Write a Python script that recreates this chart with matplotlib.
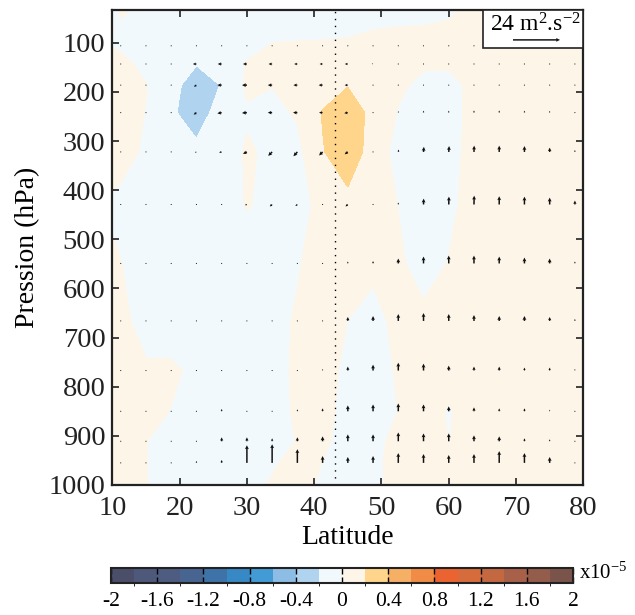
import numpy as np
import matplotlib
matplotlib.use("Agg")
import matplotlib.pyplot as plt
from matplotlib.colors import ListedColormap, BoundaryNorm
from matplotlib.patches import Rectangle

plt.rcParams['font.family'] = ['Liberation Serif', 'DejaVu Serif']
plt.rcParams['mathtext.fontset'] = 'custom'
plt.rcParams['mathtext.rm'] = 'Liberation Serif'
plt.rcParams['mathtext.it'] = 'Liberation Serif:italic'

# ---------------- data ----------------
# quiver grid
lats = [11.25, 15, 18.75, 22.5, 26.25, 30, 33.75, 37.5, 41.25, 45, 48.75,
        52.5, 56.25, 60, 63.75, 67.5, 71.25, 75, 78.75]
plev = [106, 143, 186, 242, 322, 429, 549, 666, 767, 850, 911, 955]

# contour grid (quiver grid plus domain edges), values in 1e-5 units
lat_c = [10] + lats + [80]
p_c = [33] + plev + [1000]
field = [
 [-0.02, 0.01,-0.02,-0.06,-0.08,-0.08,-0.08,-0.08,-0.08,-0.08,-0.08,-0.08,-0.08,-0.06,-0.03, 0.05, 0.08, 0.08, 0.08, 0.08, 0.08],
 [-0.005,-0.03,-0.08,-0.10,-0.10,-0.10,-0.04, 0.007,0.013,0.016,0.023,0.064,0.09, 0.08, 0.077,0.10, 0.10, 0.10, 0.10, 0.10, 0.10],
 [0.08, 0.05,-0.05,-0.12,-0.19,-0.10, 0.01, 0.05, 0.06, 0.08, 0.10, 0.08, 0.05, 0.02, 0.02, 0.08, 0.10, 0.10, 0.10, 0.10, 0.10],
 [0.10, 0.08, 0.005,-0.12,-0.32,-0.19, 0.03, 0.005,0.04, 0.12, 0.19, 0.10, 0.03,-0.04,-0.05, 0.04, 0.10, 0.10, 0.10, 0.10, 0.10],
 [0.10, 0.08,-0.005,-0.17,-0.30,-0.11,-0.02,-0.05, 0.02, 0.21, 0.32, 0.14,-0.01,-0.06,-0.05, 0.04, 0.10, 0.10, 0.10, 0.10, 0.10],
 [0.10, 0.07,-0.03,-0.10,-0.15,-0.10, 0.02,-0.03,-0.05, 0.19, 0.30, 0.13,-0.08,-0.10,-0.05, 0.05, 0.10, 0.10, 0.10, 0.10, 0.10],
 [-0.03,-0.05,-0.08,-0.10,-0.10,-0.08, 0.01,-0.04,-0.05, 0.04, 0.15, 0.08,-0.003,-0.08,-0.03, 0.05, 0.10, 0.10, 0.10, 0.10, 0.10],
 [0.03, 0.003,-0.06,-0.08,-0.08,-0.08,-0.08,-0.06,-0.015,0.08, 0.10, 0.04, 0.02,-0.05, 0.005,0.08, 0.10, 0.10, 0.10, 0.10, 0.10],
 [0.10, 0.04,-0.06,-0.10,-0.10,-0.10,-0.10,-0.06, 0.02, 0.08,-0.002,-0.06, 0.05, 0.03, 0.08, 0.10, 0.10, 0.10, 0.10, 0.10, 0.10],
 [0.10, 0.10, 0.02, 0.03,-0.04,-0.08,-0.08,-0.08, 0.04, 0.05,-0.03,-0.08, 0.02, 0.06, 0.04, 0.08, 0.08, 0.08, 0.08, 0.08, 0.08],
 [0.10, 0.10, 0.05,-0.005,-0.06,-0.08,-0.08,-0.08, 0.03, 0.04,-0.04,-0.06, 0.002,0.06,-0.01, 0.06, 0.06, 0.06, 0.06, 0.06, 0.06],
 [0.10, 0.06, 0.003,-0.06,-0.08,-0.08,-0.08,-0.05, 0.005,0.03,-0.06,-0.05, 0.05, 0.06,-0.003,0.05, 0.06, 0.06, 0.06, 0.06, 0.06],
 [0.10, 0.05, 0.003,-0.06,-0.08,-0.08,-0.08,-0.02, 0.05,-0.003,-0.08,-0.04, 0.06, 0.06, 0.06, 0.06, 0.06, 0.06, 0.06, 0.06, 0.06],
 [0.10, 0.05, 0.003,-0.06,-0.08,-0.08,-0.08, 0.02, 0.05,-0.02,-0.08,-0.04, 0.06, 0.06, 0.06, 0.06, 0.06, 0.06, 0.06, 0.06, 0.06],
]

# flux vectors (m2 s-2), rows follow plev, columns follow lats
u = [
 [-0.5]*19,
 [-0.4,-0.5,-0.5,-1.8,-2.0,-2.0,-1.8,-1.6,-1.5,-1.5,-0.6,-0.5,-0.5,-0.5,-0.4,-0.4,-0.4,-0.4,-0.4],
 [-0.3,-0.4,-0.6,-1.3,-2.2,-2.5,-2.2,-2.0,-2.0,-1.6,-0.6, 0, 0, 0, 0, 0, 0, 0, 0],
 [-0.3,-0.3,-0.6,-1.4,-2.2,-2.5,-2.2,-2.2,-1.8,-1.8,-0.3, 0, 0, 0, 0, 0, 0, 0, 0],
 [-0.3,-0.3,-0.4,-0.8,-1.3,-2.0,-2.0,-2.0,-1.8,-1.6,-0.3, 0.2, 0.2, 0.2, 0.1, 0, 0, 0, 0],
 [-0.3,-0.3,-0.3,-0.3,-0.3,-1.0,-1.2,-1.0,-0.5,-1.2,-0.3, 0, 0.1, 0.1, 0.1, 0, 0, 0, 0],
 [-0.3,-0.3,-0.3,-0.3,-0.3,-0.3,-0.3,-0.3, 0, 0, 0, 0, 0, 0, 0, 0, 0, 0, 0],
 [0]*19,
 [0]*19,
 [0]*19,
 [0]*19,
 [0]*19,
]
v = [
 [0]*19,
 [0, 0, 0, 0, 0, 0, 0, 0, 0, 0, 0.2, 0.2, 0.2, 0.2, 0.2, 0.2, 0.2, 0.2, 0.2],
 [0, 0, 0,-0.8, 0, 0, 0, 0, 0, 0, 0, 0.5, 0.5, 0.6, 0.5, 0.5, 0.5, 0.4, 0.3],
 [0, 0, 0,-1.0,-0.4,-0.2, 0, 0, 0,-0.3,-0.5, 0.8, 1.0, 1.0, 1.1, 1.1, 1.0, 0.9, 0.6],
 [0, 0, 0,-0.3,-0.3,-1.0,-2.0,-2.2,-1.8,-1.2, 0, 1.2, 2.6, 3.0, 3.2, 3.2, 3.0, 2.2, 1.0],
 [0, 0, 0, 0, 0,-0.3,-1.0,-0.8,-0.2,-1.0, 0, 1.0, 3.0, 4.0, 4.5, 4.2, 4.0, 3.5, 2.0],
 [0, 0, 0, 0, 0, 0, 0, 0, 0.5, 1.0, 1.2, 2.5, 3.5, 4.0, 4.0, 3.5, 3.0, 2.5, 1.0],
 [0.3, 0.3, 0.3, 0.3, 0.3, 0.3, 0.3, 0.3, 0.3, 2.0, 2.5, 3.5, 4.0, 3.5, 3.0, 2.5, 2.5, 2.0, 1.0],
 [0.3, 0.3, 0.3, 0.3, 0.3, 0.3, 0.3, 0.3, 0.8, 2.0, 3.0, 4.0, 3.5, 2.5, 2.0, 2.0, 1.5, 1.5, 0.8],
 [0.3, 0.3, 0.3, 0.3, 1.2, 0.5, 0.5, 1.0, 1.5, 3.0, 3.5, 4.0, 3.5, 2.5, 2.0, 1.5, 1.5, 0.8, 0.6],
 [0.3, 0.3, 0.3, 0.5, 2.0, 2.0, 1.5, 2.0, 2.5, 3.5, 3.5, 4.5, 4.0, 4.0, 3.0, 2.5, 1.5, 1.0, 0.5],
 [0.3, 0.3, 0.3, 1.0, 1.5, 9.0, 9.5, 7.0, 3.5, 3.0, 3.5, 5.0, 4.5, 4.0, 4.5, 6.0, 5.0, 3.0, 0.5],
]

levels = np.round(np.arange(-2.0, 2.01, 0.2), 2)
colors = ['#4a4e68', '#4e587a', '#4e5c82', '#486491', '#3e73a8',
          '#3789c6', '#429bd4', '#8dbde4', '#b0d4f0', '#f2f9fd',
          '#fdf5e8', '#fed58a', '#f6b066', '#f08c46', '#ea6330',
          '#d66b3c', '#c46842', '#a86048', '#945c4a', '#7a544a']
cb_ticks = [-2, -1.6, -1.2, -0.8, -0.4, 0, 0.4, 0.8, 1.2, 1.6, 2]
ref_lat = 43.1
key_value = 24

# ---------------- plot ----------------
fig = plt.figure(figsize=(6.35, 6.15), dpi=100)
ax = fig.add_axes([0.1769, 0.2114, 0.7417, 0.7724])

cmap = ListedColormap(colors)
norm = BoundaryNorm(levels, cmap.N)
cf = ax.contourf(lat_c, p_c, np.array(field), levels=levels, cmap=cmap, norm=norm, zorder=1)

Q = ax.quiver(lats, plev, np.array(u), np.array(v), angles='uv',
              scale_units='inches', scale=key_value / 0.47, units='inches',
              width=0.015, headwidth=2.6, headlength=2.6, headaxislength=2.3,
              minshaft=1.2, minlength=0.8,
              color='#111111', pivot='tail', zorder=3)

ax.axvline(ref_lat, color='k', lw=1.0, ls=(0, (1, 4)), zorder=4)

ax.set_xlim(10, 80)
ax.set_ylim(1000, 33)
ax.set_xticks(range(10, 81, 10))
ax.set_yticks(range(100, 1001, 100))
ax.tick_params(direction='in', top=True, right=True, length=5, width=1.2,
               labelsize=20.5, colors='#222222')
ax.tick_params(axis='x', pad=8)
ax.tick_params(axis='y', pad=5)
for s in ax.spines.values():
    s.set_linewidth(1.6)
    s.set_color('#222222')
    s.set_zorder(6)
ax.set_xlabel('Latitude', fontsize=20, labelpad=3)
ax.set_ylabel('Pression (hPa)', fontsize=20, labelpad=6)

# vector key
box = Rectangle((0.787, 0.92), 0.213, 0.08, transform=ax.transAxes,
                facecolor='white', edgecolor='#222222', lw=1.2, zorder=7, clip_on=False)
ax.add_patch(box)
ax.text(0.802, 0.968, r'24 m$^2$.s$^{-2}$', transform=ax.transAxes, fontsize=17,
        va='center', ha='left', zorder=8)
qk = ax.quiverkey(Q, 0.9006, 0.937, key_value, '', labelpos='N', coordinates='axes',
                  zorder=8)

# colorbar
cax = fig.add_axes([0.1748, 0.0525, 0.7276, 0.0244])
cb = fig.colorbar(cf, cax=cax, orientation='horizontal', ticks=cb_ticks)
cb.ax.set_xticklabels([f"{t:g}" for t in cb_ticks])
cb.ax.tick_params(direction='in', top=True, bottom=True, length=4, width=1.0,
                  labelsize=15.5, pad=7)
cb.outline.set_linewidth(1.5)
cb.outline.set_edgecolor('#222222')
fig.text(0.912, 0.068, r'x10$^{-5}$', fontsize=15, va='center', ha='left')

fig.savefig('out.png', dpi=100)
